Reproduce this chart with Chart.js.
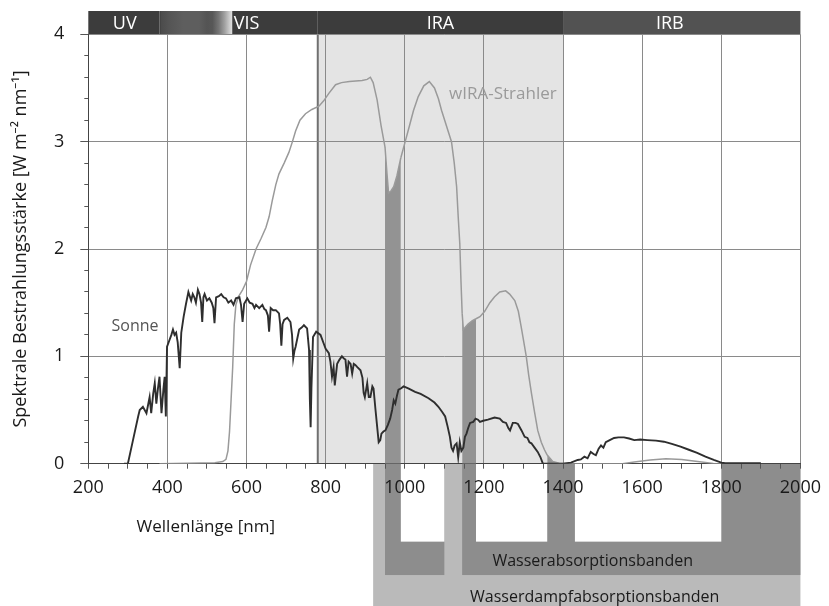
<!DOCTYPE html>
<html lang="de">
<head>
<meta charset="utf-8">
<title>Spektrale Bestrahlungsstärke – Sonne und wIRA-Strahler</title>
<script src="https://cdn.jsdelivr.net/npm/chart.js@4.4.1/dist/chart.umd.min.js"></script>
<style>
  html, body { margin: 0; padding: 0; background: #fff; }
  #wrap { width: 829px; height: 606px; }
</style>
</head>
<body>
<div id="wrap"><canvas id="chart" width="829" height="606"></canvas></div>
<script>
// Sonnenspektrum [nm, W m-2 nm-1]
const sonne = [
  [290,0],[300,0],[313,0.22],[326,0.44],[330,0.5],[338,0.53],[347,0.47],[355,0.62],[359,0.47],[364,0.65],
  [368,0.75],[372,0.56],[376,0.7],[380,0.81],[385,0.47],[390,0.7],[393,0.81],[396,0.44],[399,1.09],[405,1.15],
  [410,1.2],[414,1.25],[418,1.2],[422,1.22],[426,1.13],[431,0.89],[435,1.22],[441,1.37],[447,1.49],[453,1.6],
  [460,1.52],[464,1.58],[468,1.55],[472,1.5],[477,1.62],[481,1.58],[485,1.5],[488,1.32],[491,1.55],[494,1.58],
  [500,1.52],[506,1.54],[512,1.5],[516,1.45],[519,1.31],[523,1.55],[530,1.56],[536,1.58],[542,1.55],[548,1.54],
  [554,1.5],[561,1.52],[567,1.48],[573,1.54],[582,1.55],[586,1.48],[590,1.32],[594,1.49],[602,1.54],[608,1.5],
  [615,1.49],[620,1.45],[624,1.48],[632,1.45],[640,1.48],[645,1.44],[649,1.43],[654,1.38],[657,1.23],[661,1.45],
  [667,1.43],[674,1.43],[682,1.4],[685,1.3],[688,1.1],[691,1.3],[695,1.34],[703,1.36],[711,1.32],[715,1.2],
  [718,0.98],[721,1.05],[724,1.09],[733,1.25],[740,1.27],[745,1.29],[753,1.26],[758,1.06],[760,0.6],[762,0.34],
  [764,0.7],[768,1.18],[776,1.23],[787,1.2],[795,1.12],[800,1.07],[808,1.03],[812,0.95],[816,0.81],[820,0.9],
  [823,0.73],[829,0.93],[835,0.97],[841,1.0],[846,0.98],[850,0.97],[854,0.81],[858,0.95],[863,0.93],[867,0.84],
  [871,0.93],[875,0.92],[880,0.9],[888,0.87],[893,0.8],[896,0.66],[899,0.62],[905,0.75],[909,0.62],[913,0.62],
  [918,0.72],[921,0.7],[926,0.5],[930,0.35],[934,0.2],[938,0.22],[941,0.28],[946,0.3],[951,0.31],[957,0.36],
  [963,0.42],[968,0.5],[972,0.59],[976,0.56],[980,0.63],[984,0.69],[990,0.7],[997,0.72],[1010,0.7],[1026,0.67],
  [1040,0.65],[1060,0.61],[1075,0.57],[1085,0.53],[1095,0.48],[1102,0.44],[1108,0.35],[1114,0.25],[1118,0.15],[1122,0.12],
  [1126,0.17],[1131,0.19],[1135,0.06],[1139,0.2],[1143,0.12],[1148,0.15],[1152,0.25],[1156,0.28],[1160,0.33],[1165,0.38],
  [1173,0.39],[1179,0.42],[1185,0.41],[1190,0.39],[1198,0.4],[1210,0.41],[1227,0.43],[1240,0.42],[1248,0.39],[1256,0.38],
  [1262,0.33],[1266,0.31],[1273,0.38],[1280,0.38],[1286,0.37],[1295,0.31],[1303,0.25],[1310,0.24],[1315,0.2],[1320,0.19],
  [1328,0.15],[1336,0.11],[1343,0.06],[1349,0],[1400,0],[1420,0.01],[1437,0.035],[1445,0.04],[1454,0.065],[1462,0.05],
  [1470,0.11],[1477,0.09],[1483,0.08],[1490,0.14],[1496,0.17],[1502,0.15],[1508,0.2],[1518,0.22],[1529,0.24],[1540,0.245],
  [1554,0.245],[1567,0.235],[1580,0.22],[1595,0.225],[1613,0.22],[1635,0.215],[1655,0.205],[1675,0.185],[1697,0.16],[1718,0.13],
  [1739,0.1],[1760,0.065],[1781,0.035],[1800,0.01],[1810,0.005],[1900,0.005]
];

// wIRA-Strahler [nm, W m-2 nm-1]
const wira = [
  [380,0],[450,0.005],[520,0.01],[540,0.02],[548,0.04],[553,0.12],[557,0.3],[561,0.6],[565,0.9],[569,1.3],
  [573,1.48],[580,1.56],[590,1.62],[600,1.7],[610,1.85],[624,2.0],[637,2.1],[649,2.2],[657,2.3],[665,2.45],
  [674,2.6],[682,2.7],[695,2.8],[707,2.9],[716,3.0],[724,3.1],[735,3.2],[749,3.26],[765,3.3],[783,3.33],
  [795,3.38],[808,3.45],[825,3.53],[840,3.55],[860,3.56],[892,3.57],[905,3.58],[913,3.6],[920,3.55],[930,3.39],
  [940,3.15],[950,2.95],[955,2.7],[959,2.52],[965,2.54],[972,2.58],[980,2.68],[990,2.85],[1001,3.0],[1012,3.15],
  [1022,3.29],[1034,3.42],[1048,3.52],[1062,3.56],[1075,3.5],[1085,3.4],[1093,3.29],[1105,3.15],[1118,3.0],[1125,2.8],
  [1131,2.58],[1135,2.3],[1139,2.05],[1142,1.7],[1145,1.4],[1148,1.25],[1160,1.3],[1170,1.33],[1180,1.35],[1190,1.37],
  [1202,1.42],[1215,1.5],[1227,1.555],[1240,1.6],[1255,1.61],[1265,1.58],[1278,1.52],[1287,1.42],[1294,1.28],[1300,1.15],
  [1307,1.0],[1313,0.83],[1320,0.66],[1328,0.48],[1336,0.31],[1345,0.2],[1353,0.13],[1360,0.08],[1374,0.02],[1390,0.005],
  [1430,0],[1550,0],[1580,0.015],[1620,0.035],[1660,0.045],[1700,0.04],[1740,0.02],[1780,0.003],[1800,0]
];

// Spektralbereiche (Kopfleiste)
const regionNames = ['UV', 'VIS', 'IRA', 'IRB'];
const regionStart = [200, 380, 780, 1400];
const regionEnd = [380, 780, 1400, 2000];
const regionLabelNm = [292, 600, 1090, 1670];

// Absorptionsbanden [nm]
const vaporStart = [920];
const vaporEnd = [2000];
const waterStart = [950, 1145];
const waterEnd = [1100, 2000];
const gapStart = [990, 1180, 1430];
const gapEnd = [1100, 1360, 1800];
const absorbStart = [950, 1145, 1360];
const absorbEnd = [990, 1180, 1430];

// Achsen
const xLabels = [200, 400, 600, 800, 1000, 1200, 1400, 1600, 1800, 2000];
const xMinorStep = 50;
const yLabels = [0, 1, 2, 3, 4];
const yMinorStep = 0.2;

const xTicks = [];
for (let v = xLabels[0]; v <= xLabels[xLabels.length - 1]; v += xMinorStep) xTicks.push(v);
const yTicks = [];
for (let i = 0; i <= 20; i++) yTicks.push(Math.round(i * yMinorStep * 10) / 10);

const isMajorY = v => Math.abs(v - Math.round(v)) < 1e-6;
const isMajorX = v => xLabels.includes(v);

// Ebenen ausserhalb der Zeichenflaeche (in Datenwerten)
const headerLow = 4, headerHigh = 4.217;
const waterLow = -1.037, gapLow = -0.726, vaporLow = -1.4;

const FONT = "'Open Sans', 'Noto Sans', sans-serif";

const visStops = [
  [380, '#3c3c3c'], [385, '#4c4c4c'], [405, '#555555'], [440, '#5e5e5e'], [480, '#5e5e5e'],
  [500, '#545454'], [514, '#575757'], [530, '#767676'], [545, '#a2a2a2'], [558, '#cfcfcf'],
  [563, '#dedede'], [565, '#3c3c3c'], [780, '#3c3c3c']
];
const regionColors = ['#3c3c3c', null, '#3c3c3c', '#525252'];

const notes = [
  { text: 'Sonne', nm: 318, v: 1.28, color: '#555', size: 16 },
  { text: 'wIRA-Strahler', nm: 1248, v: 3.44, color: '#9a9a9a', size: 17 },
  { text: 'Wasserabsorptionsbanden', nm: 1475, v: -0.913, color: '#1a1a1a', size: 16 },
  { text: 'Wasserdampfabsorptionsbanden', nm: 1480, v: -1.245, color: '#1a1a1a', size: 16 },
  { text: 'Wellenlänge [nm]', nm: 497, v: -0.589, color: '#1a1a1a', size: 17 }
];

const bandsPlugin = {
  id: 'bands',
  beforeDraw(chart) {
    const { ctx, scales: { x, y } } = chart;
    const rect = (n0, n1, v0, v1, color) => {
      const px0 = x.getPixelForValue(n0), px1 = x.getPixelForValue(n1);
      const py0 = y.getPixelForValue(v0), py1 = y.getPixelForValue(v1);
      ctx.fillStyle = color;
      ctx.fillRect(px0, Math.min(py0, py1), px1 - px0, Math.abs(py1 - py0));
    };
    ctx.save();
    // IRA-Bereich
    rect(regionStart[2], regionEnd[2], 0, 4, '#e4e4e4');
    // Banden unter der Achse
    vaporStart.forEach((s, i) => rect(s, vaporEnd[i], 0, vaporLow, '#bababa'));
    waterStart.forEach((s, i) => rect(s, waterEnd[i], 0, waterLow, '#8d8d8d'));
    gapStart.forEach((s, i) => rect(s, gapEnd[i], 0, gapLow, '#ffffff'));
    // Kopfleiste
    regionNames.forEach((name, i) => {
      let color = regionColors[i];
      if (!color) {
        const g0 = x.getPixelForValue(regionStart[i]), g1 = x.getPixelForValue(regionEnd[i]);
        color = ctx.createLinearGradient(g0, 0, g1, 0);
        visStops.forEach(([nm, c]) => color.addColorStop((nm - regionStart[i]) / (regionEnd[i] - regionStart[i]), c));
      }
      rect(regionStart[i], regionEnd[i], headerLow, headerHigh, color);
    });
    // Grenze VIS/IRA
    const bx = x.getPixelForValue(regionStart[2]);
    ctx.strokeStyle = '#707070';
    ctx.lineWidth = 2;
    ctx.beginPath();
    ctx.moveTo(bx, y.getPixelForValue(4));
    ctx.lineTo(bx, y.getPixelForValue(0));
    ctx.stroke();
    ctx.restore();
  },
  afterDraw(chart) {
    const { ctx, scales: { x, y } } = chart;
    ctx.save();
    ctx.textAlign = 'center';
    ctx.textBaseline = 'middle';
    ctx.fillStyle = '#ffffff';
    ctx.font = `18px ${FONT}`;
    const hy = y.getPixelForValue((headerLow + headerHigh) / 2);
    regionNames.forEach((name, i) => ctx.fillText(name, x.getPixelForValue(regionLabelNm[i]), hy + 1));
    notes.forEach(n => {
      ctx.fillStyle = n.color;
      ctx.font = `${n.size}px ${FONT}`;
      ctx.fillText(n.text, x.getPixelForValue(n.nm), y.getPixelForValue(n.v));
    });
    ctx.restore();
  }
};

const inAbsorb = (a, b) => absorbStart.some((s, i) => a >= s && b <= absorbEnd[i]);

Chart.defaults.font.family = FONT;

new Chart(document.getElementById('chart'), {
  type: 'line',
  data: {
    datasets: [
      {
        label: 'Sonne',
        data: sonne.map(([nm, v]) => ({ x: nm, y: v })),
        borderColor: '#2e2e2e',
        borderWidth: 1.9,
        pointRadius: 0,
        fill: false
      },
      {
        label: 'wIRA-Strahler',
        data: wira.map(([nm, v]) => ({ x: nm, y: v })),
        borderColor: '#9a9a9a',
        borderWidth: 1.5,
        pointRadius: 0,
        fill: 'origin',
        backgroundColor: 'rgba(0,0,0,0)',
        segment: {
          backgroundColor: c => inAbsorb(c.p0.parsed.x, c.p1.parsed.x) ? '#939393' : 'rgba(0,0,0,0)'
        }
      }
    ]
  },
  options: {
    responsive: false,
    animation: false,
    events: [],
    layout: { padding: { top: 34.3, right: 24.7, left: 0, bottom: 0 } },
    plugins: { legend: { display: false }, tooltip: { enabled: false } },
    scales: {
      x: {
        type: 'linear',
        min: 200,
        max: 2000,
        afterBuildTicks: axis => { axis.ticks = xTicks.map(value => ({ value })); },
        afterFit: s => { s.height = 142.3; },
        grid: {
          color: c => isMajorX(c.tick.value) ? '#8a8a8a' : 'rgba(0,0,0,0)',
          tickColor: '#555',
          tickLength: 5
        },
        border: { color: '#444', width: 1 },
        ticks: {
          autoSkip: false,
          maxRotation: 0,
          padding: 8,
          color: '#1a1a1a',
          font: { size: 18 },
          callback: v => isMajorX(v) ? String(v) : ''
        }
      },
      y: {
        min: 0,
        max: 4,
        afterBuildTicks: axis => { axis.ticks = yTicks.map(value => ({ value })); },
        afterFit: s => { s.width = 88.3; },
        grid: {
          color: c => isMajorY(c.tick.value) ? '#8a8a8a' : 'rgba(0,0,0,0)',
          tickColor: '#555',
          tickLength: 8,
          tickBorderDash: c => isMajorY(c.tick.value) ? [] : [0, 4, 4, 100]
        },
        border: { color: '#444', width: 1 },
        ticks: {
          autoSkip: false,
          padding: 16,
          color: '#1a1a1a',
          font: { size: 18 },
          callback: v => isMajorY(v) && yLabels.includes(Math.round(v)) ? String(Math.round(v)) : ''
        },
        title: {
          display: true,
          text: 'Spektrale Bestrahlungsstärke [W m\u207B\u00B2 nm\u207B\u00B9]',
          color: '#1a1a1a',
          font: { size: 18 },
          padding: { top: 10, bottom: 0 }
        }
      }
    }
  },
  plugins: [bandsPlugin]
});
</script>
</body>
</html>
